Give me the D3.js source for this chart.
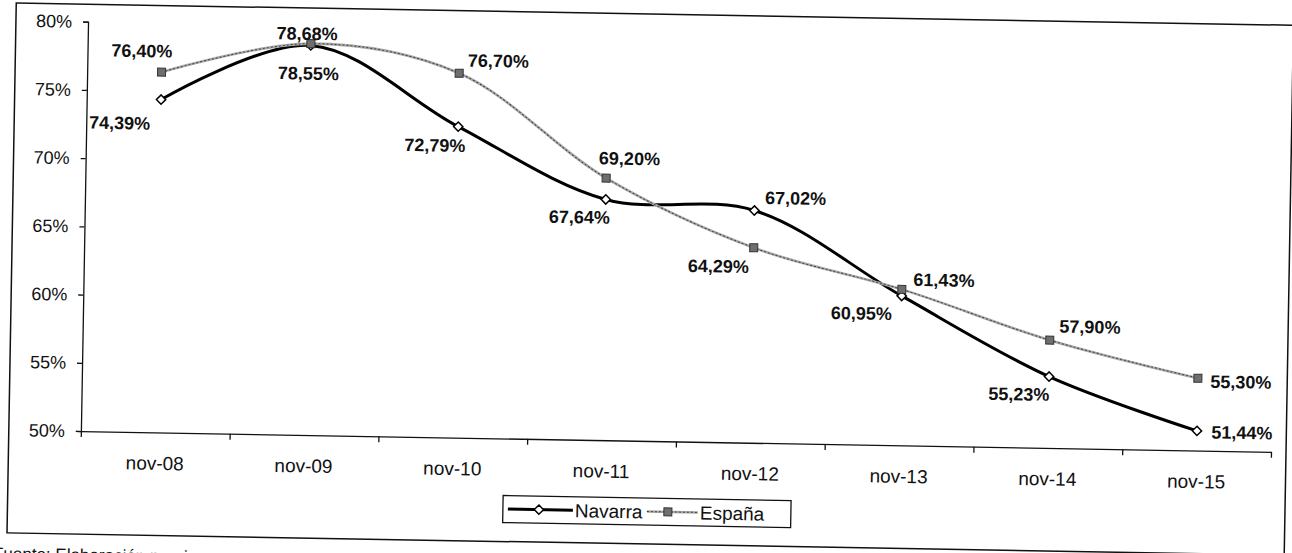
<!DOCTYPE html>
<html>
<head>
<meta charset="utf-8">
<script src="https://cdn.jsdelivr.net/npm/d3@7"></script>
<style>
  html, body { margin: 0; padding: 0; background: #fff; }
  svg { display: block; font-family: "Liberation Sans", Arial, sans-serif; }
</style>
</head>
<body>
<svg id="chart" width="1292" height="553"></svg>
<script>
// data
const months = ["nov-08", "nov-09", "nov-10", "nov-11", "nov-12", "nov-13", "nov-14", "nov-15"];
const navarra = [74.39, 78.55, 72.79, 67.64, 67.02, 60.95, 55.23, 51.44];
const espana = [76.40, 78.68, 76.70, 69.20, 64.29, 61.43, 57.90, 55.30];
const yTicks = [50, 55, 60, 65, 70, 75, 80];

// label offsets from the marker (centre of text), px
const navOffsets = [[-41, 24], [-2, 28], [-23, 19], [-26, 18], [41, -13], [-40, 18], [-30, 18], [45, 1]];
const espOffsets = [[-20, -21], [-4, -10], [39, -13], [23, -20], [-35, 19], [42, -10], [40, -14], [43, 3]];

const svg = d3.select("#chart");
// the scanned original is tilted about one degree
const g = svg.append("g").attr("transform", "rotate(1, 161, 99)");

const plot = {left: 86.7, right: 1277, top: 23, bottom: 432.4};

// outer frame
g.append("rect")
  .attr("x", 14.6).attr("y", 5.5)
  .attr("width", 1292 - 14.6).attr("height", 535.5 - 5.5)
  .attr("fill", "none").attr("stroke", "#111").attr("stroke-width", 1.5);

const x = d3.scaleBand().domain(months).range([plot.left, plot.right]);
const xEdges = d3.scaleLinear().domain([0, months.length]).range([plot.left, plot.right]);
const y = d3.scaleLinear().domain([50, 80]).range([plot.bottom, plot.top]);
const cx = d => x(d) + x.bandwidth() / 2;

// y axis
const yAxis = g.append("g")
  .attr("transform", "translate(" + plot.left + ",0)")
  .call(d3.axisLeft(y).tickValues(yTicks).tickFormat(d => d + "%").tickSize(5).tickSizeOuter(5).tickPadding(11));
yAxis.selectAll("text").attr("font-size", "18px").attr("fill", "#111").attr("font-family", "Liberation Sans, Arial, sans-serif");
yAxis.selectAll("line, path").attr("stroke", "#111").attr("stroke-width", 1.3);

// x axis: ticks at the category boundaries
const xTickAxis = g.append("g")
  .attr("transform", "translate(0," + plot.bottom + ")")
  .call(d3.axisBottom(xEdges).ticks(months.length).tickFormat("").tickSize(6).tickSizeOuter(0));
xTickAxis.selectAll("line, path").attr("stroke", "#111").attr("stroke-width", 1.3);

const xLabelAxis = g.append("g")
  .attr("transform", "translate(0," + plot.bottom + ")")
  .call(d3.axisBottom(x).tickSize(0).tickPadding(24));
xLabelAxis.select(".domain").remove();
xLabelAxis.selectAll("text").attr("font-size", "19px").attr("fill", "#111").attr("font-family", "Liberation Sans, Arial, sans-serif");

const line = d3.line()
  .x((d, i) => cx(months[i]))
  .y(d => y(d))
  .curve(d3.curveCatmullRom.alpha(0.5));

// Navarra
g.append("path").datum(navarra)
  .attr("d", line).attr("fill", "none")
  .attr("stroke", "#000").attr("stroke-width", 3);

const diamond = d3.symbol().type(d3.symbolDiamond2).size(55);
g.selectAll(".nav-dot").data(navarra).enter().append("path")
  .attr("class", "nav-dot")
  .attr("d", diamond)
  .attr("transform", (d, i) => "translate(" + cx(months[i]) + "," + y(d) + ")")
  .attr("fill", "#fff").attr("stroke", "#000").attr("stroke-width", 1.5);

// España
g.append("path").datum(espana)
  .attr("d", line).attr("fill", "none")
  .attr("stroke", "#a8a8a8").attr("stroke-width", 2.6);
g.append("path").datum(espana)
  .attr("d", line).attr("fill", "none")
  .attr("stroke", "#444").attr("stroke-width", 1)
  .attr("stroke-dasharray", "2,2");

g.selectAll(".esp-dot").data(espana).enter().append("rect")
  .attr("class", "esp-dot")
  .attr("x", (d, i) => cx(months[i]) - 4)
  .attr("y", d => y(d) - 4)
  .attr("width", 8).attr("height", 8)
  .attr("fill", "#6e6e6e").attr("stroke", "#333").attr("stroke-width", 1);

// value labels
const fmt = v => v.toFixed(2).replace(".", ",") + "%";
function addLabels(values, offsets, cls) {
  g.selectAll("." + cls).data(values).enter().append("text")
    .attr("class", cls)
    .attr("x", (d, i) => cx(months[i]) + offsets[i][0])
    .attr("y", (d, i) => y(d) + offsets[i][1] + 6.3)
    .attr("text-anchor", "middle")
    .attr("font-size", "18px")
    .attr("font-weight", "bold")
    .attr("fill", "#111")
    .text(fmt);
}
addLabels(navarra, navOffsets, "nav-lbl");
addLabels(espana, espOffsets, "esp-lbl");

// legend
const legend = g.append("g");
legend.append("rect")
  .attr("x", 510).attr("y", 489.5).attr("width", 288).attr("height", 27)
  .attr("fill", "#fff").attr("stroke", "#111").attr("stroke-width", 1.3);
legend.append("line").attr("x1", 515).attr("x2", 580).attr("y1", 503).attr("y2", 503)
  .attr("stroke", "#000").attr("stroke-width", 3);
legend.append("path").attr("d", diamond).attr("transform", "translate(546,503)")
  .attr("fill", "#fff").attr("stroke", "#000").attr("stroke-width", 1.5);
legend.append("text").attr("x", 582).attr("y", 510).attr("font-size", "19px").attr("fill", "#111").text("Navarra");
legend.append("line").attr("x1", 654).attr("x2", 705).attr("y1", 503).attr("y2", 503)
  .attr("stroke", "#a8a8a8").attr("stroke-width", 2.6);
legend.append("line").attr("x1", 654).attr("x2", 705).attr("y1", 503).attr("y2", 503)
  .attr("stroke", "#444").attr("stroke-width", 1).attr("stroke-dasharray", "2,2");
legend.append("rect").attr("x", 671).attr("y", 499).attr("width", 8).attr("height", 8)
  .attr("fill", "#6e6e6e").attr("stroke", "#333").attr("stroke-width", 1);
legend.append("text").attr("x", 707).attr("y", 510).attr("font-size", "19px").attr("fill", "#111").text("España");

// source line, mostly cut off at the bottom edge as in the scan
g.append("text").attr("x", 1).attr("y", 562).attr("font-size", "17px").attr("fill", "#111")
  .text("Fuente: Elaboración propia");
</script>
</body>
</html>
